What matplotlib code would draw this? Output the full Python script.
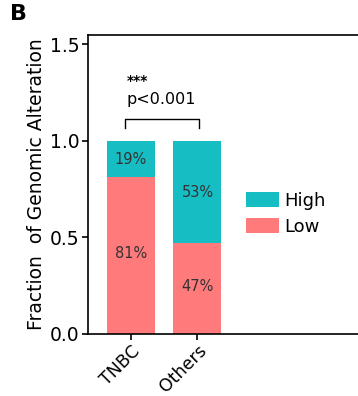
import matplotlib.pyplot as plt
from matplotlib.patches import Patch

# Fractions of genomic alteration per group
groups = ['TNBC', 'Others']
low_frac = [0.81, 0.47]
high_frac = [0.19, 0.53]
low_labels = ['81%', '47%']
high_labels = ['19%', '53%']
yticks = [0.0, 0.5, 1.0, 1.5]

plt.rcParams['font.family'] = ['DejaVu Sans']

teal = '#16BEC4'
salmon = '#FF7B7B'

fig = plt.figure(figsize=(3.58, 3.96), dpi=100)
ax = fig.add_axes([0.2458, 0.1578, 0.77, 0.7538])

x = list(range(len(groups)))
ax.bar(x, low_frac, width=0.72, color=salmon, edgecolor='none')
ax.bar(x, high_frac, width=0.72, bottom=low_frac, color=teal, edgecolor='none')

for xi, lo, hi, ll, hl in zip(x, low_frac, high_frac, low_labels, high_labels):
    ax.text(xi, lo / 2 + 0.01, ll, ha='center', va='center', fontsize=10.5, color='#333333')
    ax.text(xi, lo + hi / 2 - 0.005, hl, ha='center', va='center', fontsize=10.5, color='#333333')

# significance bracket
ax.plot([-0.09, -0.09, 1.03, 1.03], [1.065, 1.11, 1.11, 1.065], color='black', lw=1.0)
ax.text(-0.06, 1.31, '***', ha='left', va='center', fontsize=10, fontweight='bold', color='black')
ax.text(-0.06, 1.215, 'p<0.001', ha='left', va='center', fontsize=11.5, color='black')

ax.set_xlim(-0.64, 3.49)
ax.set_ylim(0, 1.547)
ax.set_yticks(yticks)
ax.set_yticklabels([f'{v:.1f}' for v in yticks], fontsize=13.5)
ax.set_xticks(x)
ax.set_xticklabels(groups, rotation=45, ha='right', rotation_mode='anchor', fontsize=12.5)
ax.set_ylabel('Fraction  of Genomic Alteration', fontsize=13.5, labelpad=3)
ax.spines['right'].set_visible(False)
for s in ['left', 'bottom', 'top']:
    ax.spines[s].set_linewidth(1.2)
ax.tick_params(width=1.2, length=4, pad=2, colors='black')

handles = [Patch(facecolor=teal, label='High'), Patch(facecolor=salmon, label='Low')]
ax.legend(handles=handles, loc='upper left', bbox_to_anchor=(0.687, 0.515),
          bbox_transform=fig.transFigure,
          frameon=False, fontsize=13, handlelength=1.85, handleheight=0.9,
          handletextpad=0.25, labelspacing=0.45, borderaxespad=0, borderpad=0)

fig.text(0.028, 0.99, 'B', fontsize=16, fontweight='bold', ha='left', va='top')

fig.savefig('out.png', dpi=100)
